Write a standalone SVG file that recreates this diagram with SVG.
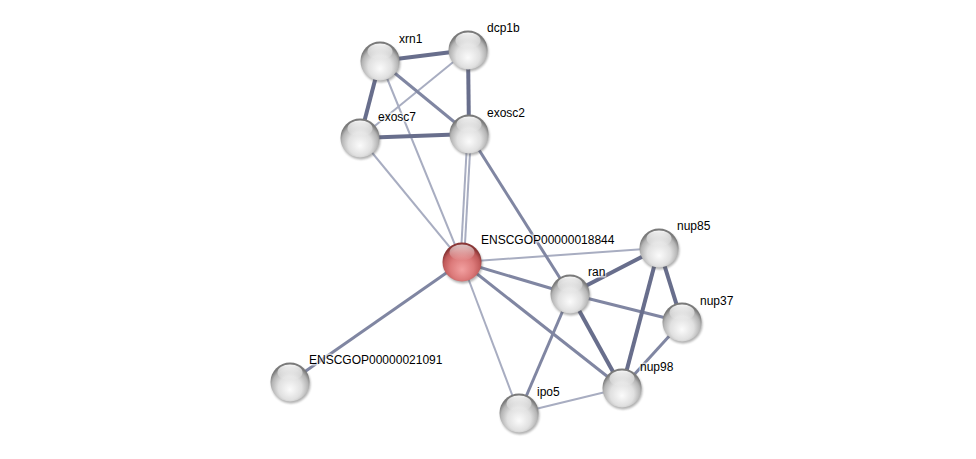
<svg xmlns="http://www.w3.org/2000/svg" width="976" height="459" viewBox="0 0 976 459">
<defs>
<radialGradient id="gGray" cx="50%" cy="62%" r="55%" fx="50%" fy="70%">
<stop offset="0" stop-color="#fbfbfb"/>
<stop offset="0.55" stop-color="#e0e0e0"/>
<stop offset="0.85" stop-color="#b4b4b4"/>
<stop offset="1" stop-color="#7a7a7a"/>
</radialGradient>
<radialGradient id="gRed" cx="50%" cy="62%" r="55%" fx="50%" fy="70%">
<stop offset="0" stop-color="#f2a0a0"/>
<stop offset="0.55" stop-color="#dc7a7a"/>
<stop offset="0.85" stop-color="#c05a5a"/>
<stop offset="1" stop-color="#8a3636"/>
</radialGradient>
<linearGradient id="gHi" x1="0" y1="0" x2="0" y2="1">
<stop offset="0" stop-color="#ffffff" stop-opacity="0.95"/>
<stop offset="1" stop-color="#ffffff" stop-opacity="0"/>
</linearGradient>
<filter id="sh" x="-30%" y="-30%" width="160%" height="160%">
<feGaussianBlur stdDeviation="1.2"/>
</filter>
<g id="ball">
<circle cx="1" cy="2" r="19.5" fill="#555" opacity="0.45" filter="url(#sh)"/>
<circle r="19.5" fill="url(#gGray)"/>
<ellipse cx="0" cy="-9.5" rx="12.5" ry="8" fill="url(#gHi)"/>
</g>
<g id="ballRed">
<circle cx="1" cy="2" r="19.5" fill="#555" opacity="0.45" filter="url(#sh)"/>
<circle r="19.5" fill="url(#gRed)"/>
<ellipse cx="0" cy="-9.5" rx="12.5" ry="8" fill="url(#gHi)" opacity="0.75"/>
</g>
</defs>
<style>
.e{stroke-linecap:butt;fill:none}
.t{stroke:#686e8c;stroke-width:4}
.m{stroke:#8086a2;stroke-width:3}
.l{stroke:#a8adc1;stroke-width:2}
text{font-family:"Liberation Sans",Arial,sans-serif;font-size:12px;fill:#000;stroke:#fff;stroke-width:3;stroke-opacity:0.6;paint-order:stroke}
</style>
<rect width="976" height="459" fill="#fff"/>
<g id="edges">
<line class="e l" x1="380" y1="61" x2="462" y2="262"/>
<line class="e l" x1="468" y1="50" x2="360" y2="138"/>
<line class="e l" x1="360" y1="138" x2="462" y2="262"/>
<line class="e l" x1="467.5" y1="134" x2="460.5" y2="262"/>
<line class="e l" x1="471" y1="134" x2="464" y2="262"/>
<line class="e l" x1="462" y1="262" x2="659" y2="248"/>
<line class="e l" x1="462" y1="262" x2="519" y2="413"/>
<line class="e l" x1="519" y1="413" x2="622" y2="388"/>
<line class="e m" x1="380" y1="61" x2="469" y2="134"/>
<line class="e m" x1="469" y1="134" x2="570" y2="294"/>
<line class="e m" x1="462" y1="262" x2="570" y2="294"/>
<line class="e m" x1="462" y1="262" x2="622" y2="388"/>
<line class="e m" x1="462" y1="262" x2="290" y2="382"/>
<line class="e m" x1="570" y1="294" x2="682" y2="322"/>
<line class="e m" x1="570" y1="294" x2="519" y2="413"/>
<line class="e m" x1="682" y1="322" x2="622" y2="388"/>
<line class="e t" x1="380" y1="61" x2="468" y2="50"/>
<line class="e t" x1="380" y1="61" x2="360" y2="138"/>
<line class="e t" x1="468" y1="50" x2="469" y2="134"/>
<line class="e t" x1="360" y1="138" x2="469" y2="134"/>
<line class="e t" x1="570" y1="294" x2="659" y2="248"/>
<line class="e t" x1="570" y1="294" x2="622" y2="388"/>
<line class="e t" x1="659" y1="248" x2="622" y2="388"/>
<line class="e t" x1="659" y1="248" x2="682" y2="322"/>
</g>
<g id="n-xrn1"><use href="#ball" x="380" y="61"/><text x="399" y="43">xrn1</text></g>
<g id="n-dcp1b"><use href="#ball" x="468" y="50"/><text x="487" y="32">dcp1b</text></g>
<g id="n-exosc7"><use href="#ball" x="360" y="138"/><text x="378" y="121">exosc7</text></g>
<g id="n-exosc2"><use href="#ball" x="469" y="134"/><text x="487" y="117">exosc2</text></g>
<g id="n-ENSCGOP00000018844"><use href="#ballRed" x="462" y="262"/><text x="481" y="244">ENSCGOP00000018844</text></g>
<g id="n-ran"><use href="#ball" x="570" y="294"/><text x="588" y="276">ran</text></g>
<g id="n-nup85"><use href="#ball" x="659" y="248"/><text x="677" y="230">nup85</text></g>
<g id="n-nup37"><use href="#ball" x="682" y="322"/><text x="700" y="305">nup37</text></g>
<g id="n-nup98"><use href="#ball" x="622" y="388"/><text x="640" y="371">nup98</text></g>
<g id="n-ipo5"><use href="#ball" x="519" y="413"/><text x="537" y="396">ipo5</text></g>
<g id="n-ENSCGOP00000021091"><use href="#ball" x="290" y="382"/><text x="309" y="364">ENSCGOP00000021091</text></g>
</svg>
